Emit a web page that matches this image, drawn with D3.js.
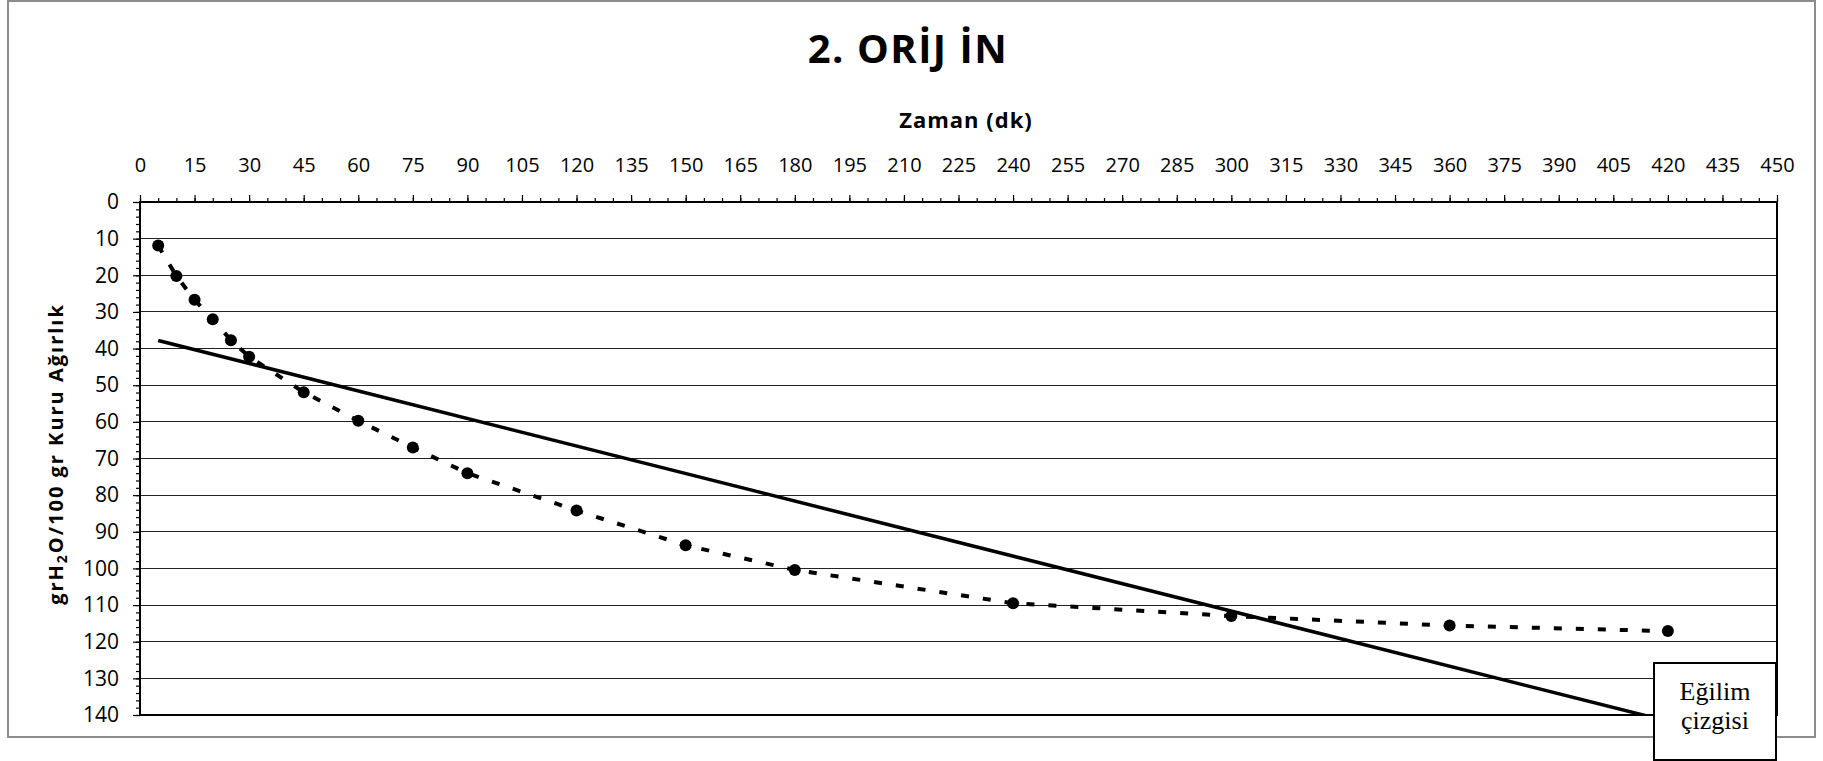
<!DOCTYPE html>
<meta charset="utf-8">
<style>
body { margin: 0; background: #fff; }
svg { display: block; font-family: "Open Sans", sans-serif; }
</style>
<svg width="1823" height="761"></svg>
<script src="https://d3js.org/d3.v7.min.js"></script>
<script>
// drying data: time (dk) vs water content (g H2O / 100 g dry)
const times = [5, 10, 15, 20, 25, 30, 45, 60, 75, 90, 120, 150, 180, 240, 300, 360, 420];
const moisture = [11.9, 20.2, 26.7, 32.0, 37.7, 42.2, 51.9, 59.7, 67.0, 74.0, 84.2, 93.7, 100.4, 109.5, 113.0, 115.6, 117.1];
// trend line ends
const trendX = [5, 420];
const trendY = [37.8, 141.7];
const xTicks = d3.range(0, 451, 15);
const yTicks = d3.range(0, 141, 10);

const svg = d3.select("svg"),
      margin = {top: 202, right: 46, bottom: 46, left: 140},
      width = +svg.attr("width") - margin.left - margin.right,
      height = +svg.attr("height") - margin.top - margin.bottom,
      g = svg.append("g").attr("transform", "translate(" + margin.left + "," + margin.top + ")");

// outer chart frame
svg.append("rect")
  .attr("x", 8).attr("y", 1)
  .attr("width", 1807).attr("height", 736)
  .attr("fill", "none")
  .attr("stroke", "#8c8c8c")
  .attr("stroke-width", 2);

const xScale = d3.scaleLinear().domain([0, 450]).range([0, width]),
      yScale = d3.scaleLinear().domain([0, 140]).range([0, height]);

// title
svg.append("text")
  .attr("x", 908).attr("y", 63)
  .attr("text-anchor", "middle")
  .style("font-size", "40px").style("font-weight", "bold")
  .style("letter-spacing", "1.5px")
  .text("2. ORİJ İN");

svg.append("text")
  .attr("x", 966).attr("y", 128)
  .attr("text-anchor", "middle")
  .style("font-size", "22px").style("font-weight", "bold")
  .style("letter-spacing", "1px")
  .text("Zaman (dk)");

// y axis title
const yt = svg.append("text")
  .attr("transform", "translate(63,454) rotate(-90)")
  .attr("text-anchor", "middle")
  .style("font-size", "20px").style("font-weight", "bold")
  .style("letter-spacing", "2px");
yt.append("tspan").text("grH");
yt.append("tspan").attr("dy", 4).style("font-size", "14px").text("2");
yt.append("tspan").attr("dy", -4).text("O/100 gr Kuru Ağırlık");

// gridlines
g.append("g")
  .selectAll("line")
  .data(yTicks.filter(d => d > 0 && d < 140))
  .enter().append("line")
  .attr("x1", 0).attr("x2", width)
  .attr("y1", d => yScale(d)).attr("y2", d => yScale(d))
  .attr("stroke", "#222")
  .attr("stroke-width", 1)
  .attr("shape-rendering", "crispEdges");

// minor ticks
g.append("g")
  .call(d3.axisTop(xScale).tickValues(d3.range(0, 451, 5)).tickSize(4).tickFormat(""))
  .call(a => a.select(".domain").remove());
g.append("g")
  .call(d3.axisLeft(yScale).tickValues(d3.range(0, 141, 2)).tickSize(4).tickFormat(""))
  .call(a => a.select(".domain").remove());

// major ticks + labels
g.append("g")
  .call(d3.axisTop(xScale).tickValues(xTicks).tickSize(7).tickPadding(23))
  .attr("font-family", null).attr("font-size", null)
  .call(a => a.select(".domain").remove())
  .call(a => a.selectAll("text").style("font-size", "20px").attr("fill", "#000"));
g.append("g")
  .call(d3.axisLeft(yScale).tickValues(yTicks).tickSize(7).tickPadding(14))
  .attr("font-family", null).attr("font-size", null)
  .call(a => a.select(".domain").remove())
  .call(a => a.selectAll("text").style("font-size", "21px").attr("fill", "#000"));

g.selectAll(".tick line").attr("stroke", "#000").attr("stroke-width", 1.2);

// plot frame
g.append("rect")
  .attr("width", width).attr("height", height)
  .attr("fill", "none")
  .attr("stroke", "#000")
  .attr("stroke-width", 2);

g.append("clipPath").attr("id", "clip")
  .append("rect").attr("width", width).attr("height", height);

const data = times.map((t, i) => ({x: t, y: moisture[i]}));
const line = d3.line().x(d => xScale(d.x)).y(d => yScale(d.y));

// trend line
g.append("path")
  .datum(trendX.map((t, i) => ({x: t, y: trendY[i]})))
  .attr("clip-path", "url(#clip)")
  .attr("fill", "none")
  .attr("stroke", "#000")
  .attr("stroke-width", 3.5)
  .attr("d", line);

// dashed series
g.append("path")
  .datum(data)
  .attr("fill", "none")
  .attr("stroke", "#000")
  .attr("stroke-width", 4)
  .attr("stroke-dasharray", "8,14")
  .attr("d", line);

g.append("g")
  .selectAll("circle")
  .data(data)
  .enter().append("circle")
  .attr("cx", d => xScale(d.x))
  .attr("cy", d => yScale(d.y))
  .attr("r", 6)
  .attr("fill", "#000");

// label box for the trend line
const box = svg.append("g").attr("transform", "translate(1654,663)");
box.append("rect")
  .attr("width", 122).attr("height", 97)
  .attr("fill", "#fff")
  .attr("stroke", "#000")
  .attr("stroke-width", 2);
box.selectAll("text")
  .data(["Eğilim", "çizgisi"])
  .enter().append("text")
  .attr("x", 61)
  .attr("y", (d, i) => 37 + i * 29)
  .attr("text-anchor", "middle")
  .style("font-family", "'Liberation Serif', serif")
  .style("font-size", "26px")
  .text(d => d);
</script>
